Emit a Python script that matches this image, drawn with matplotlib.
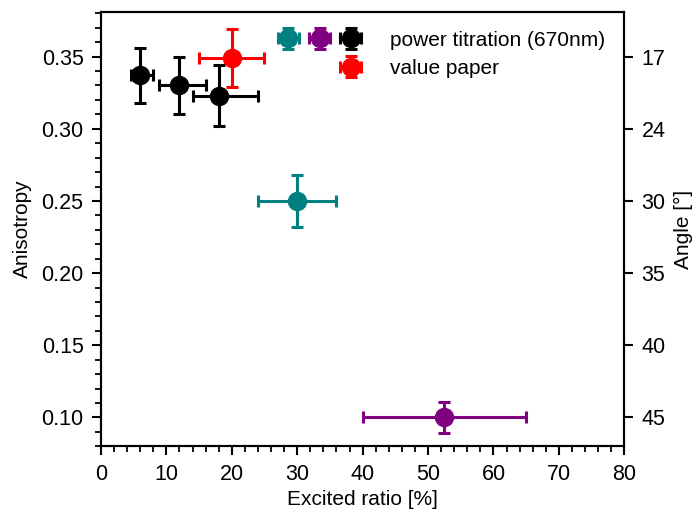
import matplotlib.pyplot as plt
from matplotlib.legend_handler import HandlerTuple, HandlerErrorbar
from matplotlib.container import ErrorbarContainer
from matplotlib.lines import Line2D
from matplotlib.ticker import MultipleLocator

plt.rcParams["font.family"] = ["Liberation Sans", "DejaVu Sans"]
plt.rcParams["font.size"] = 15

# power titration (670nm)
black_x = [6, 12, 18]
black_y = [0.337, 0.330, 0.323]
black_xerr_lo = [1.4, 3.1, 4.0]
black_xerr_hi = [1.9, 4.1, 6.0]
black_yerr = [0.019, 0.020, 0.021]

teal_x = [30]
teal_y = [0.25]
teal_xerr = [6]
teal_yerr = [0.018]

purple_x = [52.5]
purple_y = [0.10]
purple_xerr = [12.5]
purple_yerr = [0.0105]

# value paper
red_x = [20]
red_y = [0.349]
red_xerr = [5]
red_yerr = [0.02]

aniso_ticks = [0.35, 0.30, 0.25, 0.20, 0.15, 0.10]
angle_labels = ["17", "24", "30", "35", "40", "45"]

fig = plt.figure(figsize=(6.96, 5.16), dpi=100)
ax = fig.add_axes([0.145, 0.135, 0.752, 0.842])

style = dict(fmt="o", markersize=13, elinewidth=2.2, capsize=4, capthick=2.2)
eb_black = ax.errorbar(black_x, black_y, xerr=[black_xerr_lo, black_xerr_hi],
                       yerr=black_yerr, color="black", **style)
eb_teal = ax.errorbar(teal_x, teal_y, xerr=teal_xerr, yerr=teal_yerr, color="teal", **style)
eb_purple = ax.errorbar(purple_x, purple_y, xerr=purple_xerr, yerr=purple_yerr,
                        color="purple", **style)
eb_red = ax.errorbar(red_x, red_y, xerr=red_xerr, yerr=red_yerr, color="red", **style)

ax.set_xlim(0, 80)
ax.set_ylim(0.08, 0.381)
ax.xaxis.set_major_locator(MultipleLocator(10))
ax.xaxis.set_minor_locator(MultipleLocator(2))
ax.yaxis.set_major_locator(MultipleLocator(0.05))
ax.yaxis.set_minor_locator(MultipleLocator(0.01))
ax.tick_params(which="major", direction="out", length=6.5, width=1.5, pad=6,
               labelsize=15.5)
ax.tick_params(which="minor", direction="out", length=4, width=1.3)
for sp in ax.spines.values():
    sp.set_linewidth(1.5)
ax.set_xlabel("Excited ratio [%]", labelpad=4)
ax.set_ylabel("Anisotropy", labelpad=7)

ax2 = ax.twinx()
ax2.set_ylim(ax.get_ylim())
ax2.set_yticks(aniso_ticks)
ax2.set_yticklabels(angle_labels)
ax2.yaxis.set_minor_locator(plt.NullLocator())
ax2.tick_params(which="major", direction="out", length=6.5, width=1.5, pad=6,
                labelsize=15.5)
ax2.set_ylabel("Angle [°]", labelpad=6)
for sp in ax2.spines.values():
    sp.set_linewidth(1.5)

blank = Line2D([], [], linestyle="none")
ax2.legend([(eb_teal, eb_purple, eb_black), (blank, blank, eb_red)],
           ["power titration (670nm)", "value paper"],
           handler_map={tuple: HandlerTuple(ndivide=None, pad=0.0),
                        ErrorbarContainer: HandlerErrorbar(xerr_size=0.5)},
           loc="upper right", frameon=False, handlelength=4.5,
           handletextpad=1.15, labelspacing=0.45, borderaxespad=0.5)

fig.savefig("out.png", dpi=100)
